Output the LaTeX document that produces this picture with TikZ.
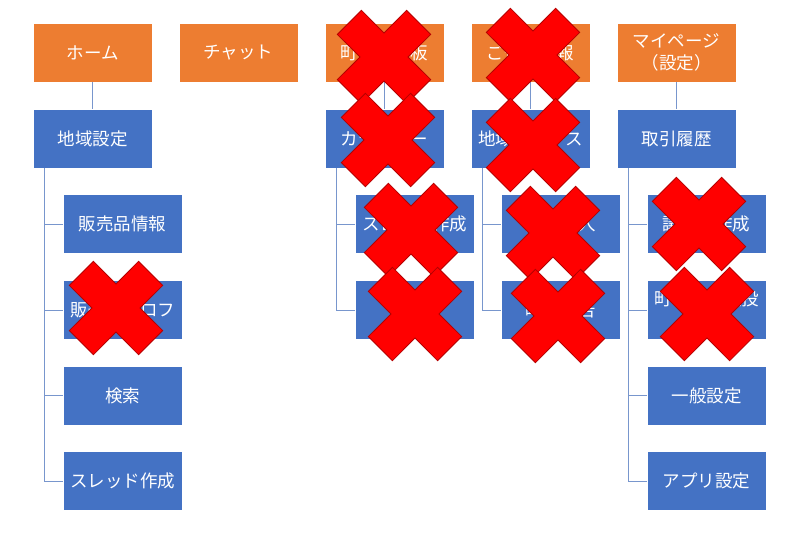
\documentclass[tikz,border=0pt]{standalone}
\usepackage{fontspec}
\setmainfont{Noto Sans CJK JP}
\definecolor{boxorange}{RGB}{237,125,49}
\definecolor{boxblue}{RGB}{68,114,196}
\definecolor{linkblue}{RGB}{120,150,205}
\definecolor{xedge}{RGB}{180,0,0}
\begin{document}
\begin{tikzpicture}[x=1pt, y=-1pt]
		\useasboundingbox (0,0) rectangle (800,541);
		% boxes
		\begin{scope}[every node/.style={rectangle, draw=white, line width=0.6pt, text=white, minimum width=119pt, minimum height=59pt, inner sep=0pt, align=center, font=\fontsize{17.5}{22}\selectfont}]
			\node[fill=boxorange] (H) at (92.5,52.5) {ホーム};
			\node[fill=boxorange] (C) at (238.5,52.5) {チャット};
			\node[fill=boxorange] (B) at (384.5,52.5) {町の掲示板};
			\node[fill=boxorange] (N) at (530.5,52.5) {ご近所情報};
			\node[fill=boxorange] (M) at (676.5,52.5) {マイページ\\（設定）};
			\node[fill=boxblue] (H1) at (92.5,138.5) {地域設定};
			\node[fill=boxblue] (B1) at (384.5,138.5) {カテゴリー};
			\node[fill=boxblue] (N1) at (530.5,138.5) {地域ニュース};
			\node[fill=boxblue] (M1) at (676.5,138.5) {取引履歴};
			\node[fill=boxblue] (H11) at (122.5,224) {販売品情報};
			\node[fill=boxblue] (H12) at (122.5,310) {販売者プロフ};
			\node[fill=boxblue] (H13) at (122.5,395.5) {検索};
			\node[fill=boxblue] (H14) at (122.5,481) {スレッド作成};
			\node[fill=boxblue] (B11) at (414.5,224) {スレッド作成};
			\node[fill=boxblue] (B12) at (414.5,310) {検索};
			\node[fill=boxblue] (N11) at (560.5,224) {記事記入};
			\node[fill=boxblue] (N12) at (560.5,310) {町内報告};
			\node[fill=boxblue] (M11) at (706.5,224) {議事録作成};
			\node[fill=boxblue] (M12) at (706.5,310) {町の掲示板投\\稿};
			\node[fill=boxblue] (M13) at (706.5,395.5) {一般設定};
			\node[fill=boxblue] (M14) at (706.5,481) {アプリ設定};
		\end{scope}
		% lines between the boxes
		\begin{scope}[every edge/.style={draw=linkblue, line width=0.8pt}]
			\path (H) edge (H1);
			\path (B) edge (B1);
			\path (N) edge (N1);
			\path (M) edge (M1);
		\end{scope}
		\begin{scope}[draw=linkblue, line width=0.8pt]
			\draw ([xshift=12pt]H1.south west) |- (H11.west);
			\draw ([xshift=12pt]H1.south west) |- (H12.west);
			\draw ([xshift=12pt]H1.south west) |- (H13.west);
			\draw ([xshift=12pt]H1.south west) |- (H14.west);
			\draw ([xshift=12pt]B1.south west) |- (B11.west);
			\draw ([xshift=12pt]B1.south west) |- (B12.west);
			\draw ([xshift=12pt]N1.south west) |- (N11.west);
			\draw ([xshift=12pt]N1.south west) |- (N12.west);
			\draw ([xshift=12pt]M1.south west) |- (M11.west);
			\draw ([xshift=12pt]M1.south west) |- (M12.west);
			\draw ([xshift=12pt]M1.south west) |- (M13.west);
			\draw ([xshift=12pt]M1.south west) |- (M14.west);
		\end{scope}
		% red crosses on top
		\foreach \x/\y in {384/57, 388/140, 411/230, 415/314, 533/55, 533/145, 553/233, 558/316, 116/308, 699/224, 707/314}
			\draw[fill=red, draw=xedge, line width=0.8pt, line join=miter, shift={(\x,\y)}]
				(0,-24) -- (22.6,-46.7) -- (46.7,-22.6) -- (24,0) -- (46.7,22.6) -- (22.6,46.7)
				-- (0,24) -- (-22.6,46.7) -- (-46.7,22.6) -- (-24,0) -- (-46.7,-22.6) -- (-22.6,-46.7) -- cycle;
	\end{tikzpicture}
\end{document}
